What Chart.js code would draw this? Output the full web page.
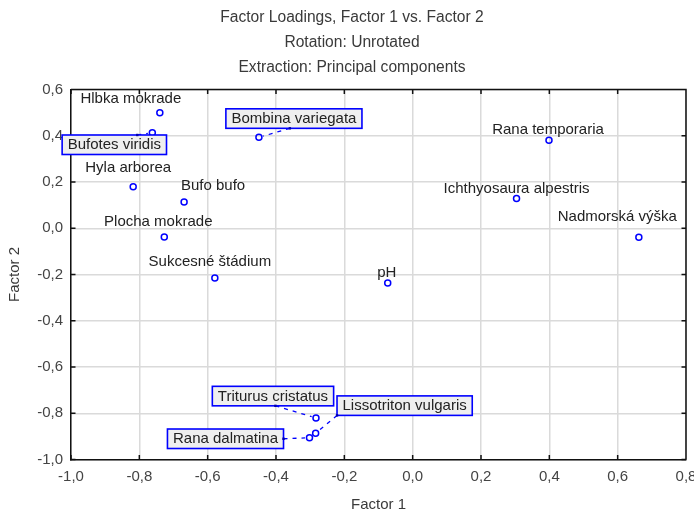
<!DOCTYPE html>
<html>
<head>
<meta charset="utf-8">
<script src="https://cdn.jsdelivr.net/npm/chart.js@4/dist/chart.umd.min.js"></script>
<style>
  html, body { margin: 0; padding: 0; background: #fff; }
  canvas { display: block; }
</style>
</head>
<body>
<canvas id="chart" width="694" height="511"></canvas>
<script>
// Factor loadings of each variable on the first two principal components
const variables = [
  'Hlbka mokrade', 'Bufotes viridis', 'Bombina variegata', 'Hyla arborea',
  'Bufo bufo', 'Plocha mokrade', 'Sukcesné štádium', 'pH',
  'Rana temporaria', 'Ichthyosaura alpestris', 'Nadmorská výška',
  'Triturus cristatus', 'Lissotriton vulgaris', 'Rana dalmatina'
];
const factor1 = [-0.740, -0.762, -0.450, -0.818, -0.669, -0.727, -0.579, -0.073,
                  0.399,  0.304,  0.662, -0.283, -0.284, -0.302];
const factor2 = [ 0.499,  0.413,  0.393,  0.179,  0.114, -0.038, -0.215, -0.237,
                  0.381,  0.129, -0.039, -0.820, -0.886, -0.906];

const xTickValues = [-1.0, -0.8, -0.6, -0.4, -0.2, 0.0, 0.2, 0.4, 0.6, 0.8];
const yTickValues = [-1.0, -0.8, -0.6, -0.4, -0.2, 0.0, 0.2, 0.4, 0.6];

const titleLines = [
  'Factor Loadings, Factor 1 vs. Factor 2',
  'Rotation: Unrotated',
  'Extraction: Principal components'
];

// Label placement: offset of the label centre from its point (px),
// whether it is drawn in a box, and where the leader line leaves the box
// (ax, ay in box half-sizes, -1..1).
const labelPlacement = [
  { dx: -29,  dy: -14.5 },
  { dx: -38,  dy: 12,   box: true, ax: 0.44, ay: -1 },
  { dx: 35,   dy: -18.8, box: true, ax: -0.06, ay: 1 },
  { dx: -5,   dy: -19.5 },
  { dx: 29,   dy: -16.5 },
  { dx: -6,   dy: -15.5 },
  { dx: -5,   dy: -16.5 },
  { dx: -1,   dy: -10.5 },
  { dx: -1,   dy: -10.5 },
  { dx: 0,    dy: -10.5 },
  { dx: -21.5, dy: -20.5 },
  { dx: -43,  dy: -21.8, box: true, ax: 0.04, ay: 1 },
  { dx: 89,   dy: -27.5, box: true, ax: -1, ay: 1 },
  { dx: -84,  dy: 1,    box: true, ax: 1, ay: 0 }
];

const FONT_FAMILY = '"Liberation Sans", Arial, sans-serif';
const fmt = v => (Math.abs(v) < 1e-9 ? '0,0' : v.toFixed(1).replace('.', ','));

// Three-line heading centred above the plot
const headingPlugin = {
  id: 'heading',
  afterDraw(chart) {
    const ctx = chart.ctx;
    ctx.save();
    ctx.font = '15.6px ' + FONT_FAMILY;
    ctx.fillStyle = '#3a3a3a';
    ctx.textAlign = 'center';
    ctx.textBaseline = 'middle';
    titleLines.forEach((line, i) => ctx.fillText(line, 352, 18 + i * 25));
    ctx.restore();
  }
};

// Closed frame with short inward tick marks on all four sides
const framePlugin = {
  id: 'frame',
  afterDatasetsDraw(chart) {
    const { ctx, chartArea: a, scales } = chart;
    const len = 4.5;
    ctx.save();
    ctx.strokeStyle = '#111';
    ctx.lineWidth = 1.5;
    ctx.beginPath();
    ctx.moveTo(a.left, a.top); ctx.lineTo(a.right, a.top); ctx.lineTo(a.right, a.bottom);
    xTickValues.forEach(v => {
      const x = scales.x.getPixelForValue(v);
      ctx.moveTo(x, a.bottom); ctx.lineTo(x, a.bottom - len);
      ctx.moveTo(x, a.top); ctx.lineTo(x, a.top + len);
    });
    yTickValues.forEach(v => {
      const y = scales.y.getPixelForValue(v);
      ctx.moveTo(a.left, y); ctx.lineTo(a.left + len, y);
      ctx.moveTo(a.right, y); ctx.lineTo(a.right - len, y);
    });
    ctx.stroke();
    ctx.restore();
  }
};

// Variable names next to their points; some boxed with dashed leaders
const labelPlugin = {
  id: 'pointLabels',
  afterDatasetsDraw(chart) {
    const ctx = chart.ctx;
    const pts = chart.getDatasetMeta(0).data;
    ctx.save();
    ctx.font = '15px ' + FONT_FAMILY;
    ctx.textAlign = 'center';
    ctx.textBaseline = 'middle';
    variables.forEach((name, i) => {
      const p = pts[i];
      const s = labelPlacement[i];
      const cx = p.x + s.dx;
      const cy = p.y + s.dy;
      if (s.box) {
        const w = ctx.measureText(name).width + 11;
        const h = 19.5;
        const ax = cx + s.ax * w / 2;
        const ay = cy + s.ay * h / 2;
        const dx = p.x - ax, dy = p.y - ay;
        const d = Math.hypot(dx, dy);
        const r = 4.5;
        if (d > r) {
          ctx.strokeStyle = '#0000ff';
          ctx.lineWidth = 1.3;
          ctx.setLineDash([4, 5]);
          ctx.beginPath();
          ctx.moveTo(ax, ay);
          ctx.lineTo(p.x - dx / d * r, p.y - dy / d * r);
          ctx.stroke();
          ctx.setLineDash([]);
        }
        ctx.fillStyle = '#efefef';
        ctx.fillRect(cx - w / 2, cy - h / 2, w, h);
        ctx.strokeStyle = '#0000ff';
        ctx.lineWidth = 1.6;
        ctx.strokeRect(cx - w / 2, cy - h / 2, w, h);
        ctx.fillStyle = '#0000aa';
        ctx.fillRect(ax - 1.2, ay - 1.2, 2.4, 2.4);
      }
      ctx.fillStyle = '#222';
      ctx.fillText(name, cx, cy + 0.5);
    });
    ctx.restore();
  }
};

const tickFont = { family: FONT_FAMILY, size: 15 };
const gridStyle = { color: '#dadada', lineWidth: 1.5, drawTicks: false };
const borderStyle = { display: true, color: '#111', width: 1.5 };

new Chart(document.getElementById('chart'), {
  type: 'scatter',
  data: {
    datasets: [{
      data: variables.map((_, i) => ({ x: factor1[i], y: factor2[i] })),
      pointStyle: 'circle',
      pointRadius: 3,
      pointBorderWidth: 1.5,
      pointBorderColor: '#0000ff',
      pointBackgroundColor: 'rgba(255,255,255,0)',
      clip: false
    }]
  },
  options: {
    responsive: false,
    animation: false,
    events: [],
    devicePixelRatio: 1,
    layout: { padding: { top: 89.5, right: 8, left: 0, bottom: 0 } },
    plugins: {
      legend: { display: false },
      title: { display: false },
      tooltip: { enabled: false }
    },
    scales: {
      x: {
        type: 'linear',
        min: -1.0,
        max: 0.8,
        afterBuildTicks: s => { s.ticks = xTickValues.map(v => ({ value: v })); },
        afterFit: s => { s.height = 51.5; s.paddingLeft = 0; s.paddingRight = 0; },
        grid: gridStyle,
        border: borderStyle,
        ticks: {
          font: tickFont, color: '#444', padding: 8,
          maxRotation: 0, autoSkip: false,
          callback: v => fmt(v)
        },
        title: {
          display: true, text: 'Factor 1', color: '#3a3a3a',
          font: { family: FONT_FAMILY, size: 15 },
          padding: { top: 0, bottom: -3 }
        }
      },
      y: {
        type: 'linear',
        min: -1.0,
        max: 0.6,
        afterBuildTicks: s => { s.ticks = yTickValues.map(v => ({ value: v })); },
        afterFit: s => { s.width = 71; s.paddingTop = 0; s.paddingBottom = 0; },
        grid: gridStyle,
        border: borderStyle,
        ticks: {
          font: tickFont, color: '#444', padding: 8,
          autoSkip: false,
          callback: v => fmt(v)
        },
        title: {
          display: true, text: 'Factor 2', color: '#3a3a3a',
          font: { family: FONT_FAMILY, size: 15 },
          padding: { top: 6, bottom: 0 }
        }
      }
    }
  },
  plugins: [headingPlugin, framePlugin, labelPlugin]
});
</script>
</body>
</html>
